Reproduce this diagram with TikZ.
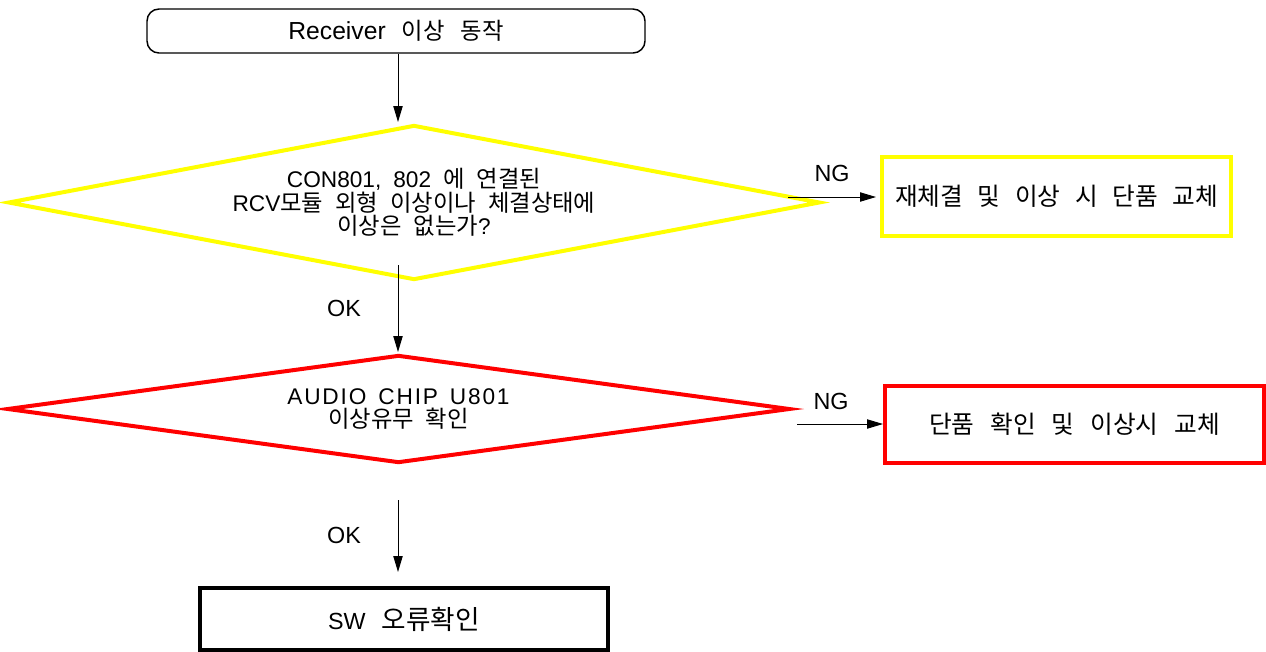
\documentclass[tikz,border=0pt]{standalone}
\usepackage{fontspec}
\setmainfont{Liberation Sans}
\newfontfamily\kr{Noto Sans CJK KR}
\newfontfamily\latA[LetterSpace=8]{Liberation Sans}
\newcommand\K[2][17.5]{{\kr\fontsize{#1}{17.5}\selectfont #2}}
\newcommand\sps[1]{\spaceskip=#1\relax\lineskiplimit=-8pt\relax}
\usetikzlibrary{shapes.geometric,arrows.meta}
\definecolor{yel}{RGB}{255,255,0}
\definecolor{red}{RGB}{255,0,0}
\begin{document}
\begin{tikzpicture}[x=0.75pt,y=-0.75pt,
  arr/.style={draw=black,line width=0.75pt,-{Triangle[length=12pt,width=7pt]}},
  dia/.style={shape=diamond,draw,line width=3pt,inner sep=0pt,align=center},
  boxk/.style={draw,line width=3pt,inner sep=0pt,align=center},
  lbl/.style={font=\fontsize{17.5}{19}\selectfont}]
\useasboundingbox (0,0) rectangle (1266,651);
\node[draw,line width=1.1pt,rounded corners=9pt,minimum width=498*0.75pt,minimum height=44*0.75pt,inner sep=0pt,font={\fontsize{18.5}{20}\selectfont\sps{12pt}}] (start) at (396,31) {Receiver \K[17.5]{이상 동작}};
\node[dia,draw=yel,minimum width=812*0.75pt,minimum height=155*0.75pt,aspect=5.24,font={\fontsize{17}{17.5}\selectfont\sps{9pt}}] (d1) at (414,202.5) {CON801, 802 \K{에 연결된}\\RCV\K{모듈 외형 이상이나 체결상태에}\\\K{이상은 없는가}?};
\node[boxk,draw=yel,minimum width=349*0.75pt,minimum height=79*0.75pt,font={\kr\fontsize{18.5}{17}\selectfont\sps{11pt}}] (b1) at (1056.5,196.5) {재체결 및 이상 시 단품 교체};
\node[dia,draw=red,minimum width=783*0.75pt,minimum height=108*0.75pt,aspect=7.25,font={\latA\fontsize{17}{17.5}\selectfont\sps{9pt}}] (d2) at (398.5,409) {AUDIO CHIP U801\\\K{이상유무 확인}};
\node[boxk,draw=red,minimum width=379*0.75pt,minimum height=77*0.75pt,font={\kr\fontsize{18.5}{17}\selectfont\sps{12pt}}] (b2) at (1074.5,424.5) {단품 확인 및 이상시 교체};
\node[boxk,draw=black,minimum width=408*0.75pt,minimum height=62*0.75pt,font={\fontsize{17.5}{19}\selectfont\sps{12pt}}] (b3) at (404,619) {SW \K[20]{오류확인}};
\coordinate (c1) at (398,122);
\coordinate (c2s) at (398,265);
\coordinate (c2e) at (398,352);
\coordinate (c3s) at (398,500);
\coordinate (c3e) at (398,572);
\coordinate (n1s) at (788,197);
\coordinate (n2s) at (797,424);
\draw[arr] (start.south -| c1) -- (c1);
\draw[arr] (c2s) -- (c2e);
\draw[arr] (c3s) -- (c3e);
\draw[arr,shorten >=3pt] (n1s) -- (b1.west |- n1s);
\draw[arr] (n2s) -- (b2.west |- n2s);
\node[lbl] (ng1) at (832,173) {NG};
\node[lbl] (ng2) at (831,401) {NG};
\node[lbl] (ok1) at (344,308) {OK};
\node[lbl] (ok2) at (344,535) {OK};
\end{tikzpicture}
\end{document}
